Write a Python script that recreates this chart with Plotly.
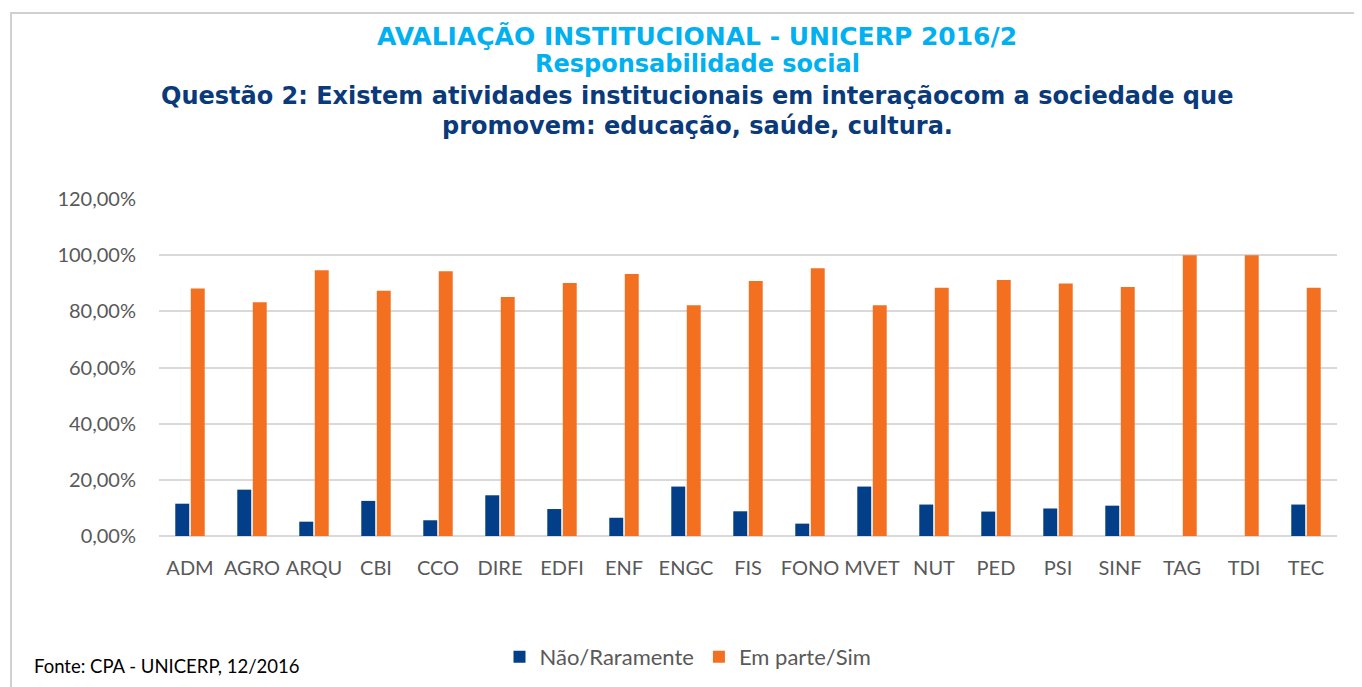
import plotly.graph_objects as go

categories = ["ADM", "AGRO", "ARQU", "CBI", "CCO", "DIRE", "EDFI", "ENF", "ENGC", "FIS",
              "FONO", "MVET", "NUT", "PED", "PSI", "SINF", "TAG", "TDI", "TEC"]
nao_raramente = [0.115, 0.165, 0.051, 0.125, 0.056, 0.145, 0.096, 0.065, 0.176, 0.088,
                 0.044, 0.176, 0.112, 0.087, 0.098, 0.108, 0.0, 0.0, 0.112]
em_parte_sim = [0.881, 0.832, 0.946, 0.873, 0.943, 0.851, 0.901, 0.933, 0.822, 0.908,
                0.953, 0.822, 0.884, 0.912, 0.899, 0.887, 1.0, 1.0, 0.884]
y_ticks = [0, 0.2, 0.4, 0.6, 0.8, 1.0, 1.2]
y_tick_labels = ["0,00%", "20,00%", "40,00%", "60,00%", "80,00%", "100,00%", "120,00%"]

BLUE = "#023f88"
ORANGE = "#f37021"
FONT = "Lato"
OFF = 8  # page body margin

fig = go.Figure()
fig.add_trace(go.Bar(x=categories, y=nao_raramente, name="Não/Raramente",
                     marker=dict(color=BLUE, line=dict(width=0))))
fig.add_trace(go.Bar(x=categories, y=em_parte_sim, name="Em parte/Sim",
                     marker=dict(color=ORANGE, line=dict(width=0))))

W, H = 1362, 687
# target page coordinates of plot area
PL, PR, PT, PB = 159, 1337, 199, 536
L = PL - OFF
T = PT - OFF
R = W - (PR - OFF)
B = H - (PB - OFF)
pw, ph = PR - PL, PB - PT

def px(x):
    return (x - PL) / pw

def py(y):
    return (PB - y) / ph

fig.update_layout(
    width=W, height=H,
    margin=dict(l=L, r=R, t=T, b=B, autoexpand=False),
    paper_bgcolor="white", plot_bgcolor="white",
    barmode="group", bargap=0.5, bargroupgap=0.1,
    font=dict(family=FONT, size=20, color="#595959"),
    showlegend=True,
    legend=dict(orientation="h", x=px(688), xanchor="center", y=py(657), yanchor="middle",
                font=dict(family=FONT, size=22, color="#595959"),
                itemwidth=30, tracegroupgap=0),
    xaxis=dict(showgrid=False, showline=False, zeroline=False, ticks="",
               tickfont=dict(family=FONT, size=20, color="#595959"),
               ticklabelstandoff=18),
    yaxis=dict(range=[0, 1.2], tickvals=y_ticks, ticktext=y_tick_labels,
               showgrid=True, gridcolor="#d9d9d9", gridwidth=1.5,
               zeroline=True, zerolinecolor="#d9d9d9", zerolinewidth=1.5,
               showline=False, ticks="",
               tickfont=dict(family=FONT, size=20, color="#595959"),
               ticklabelstandoff=22),
)

# chart frame border
fig.add_shape(type="rect", xref="paper", yref="paper",
              x0=px(11), x1=px(1375), y0=py(700), y1=py(13),
              line=dict(color="#d0d0d0", width=2), layer="below")

title_font = "DejaVu Sans"
fig.add_annotation(text="<b>AVALIAÇÃO INSTITUCIONAL - UNICERP 2016/2</b>",
                   xref="paper", yref="paper", x=px(697), y=py(36),
                   xanchor="center", yanchor="middle", showarrow=False,
                   font=dict(family=title_font, size=25, color="#00b0f0"))
fig.add_annotation(text="<b>Responsabilidade social</b>",
                   xref="paper", yref="paper", x=px(697), y=py(64),
                   xanchor="center", yanchor="middle", showarrow=False,
                   font=dict(family=title_font, size=24, color="#00b0f0"))
fig.add_annotation(text="<b>Questão 2: Existem atividades institucionais em interaçãocom a sociedade que</b>",
                   xref="paper", yref="paper", x=px(697), y=py(96),
                   xanchor="center", yanchor="middle", showarrow=False,
                   font=dict(family=title_font, size=24, color="#0a3a7a"))
fig.add_annotation(text="<b>promovem: educação, saúde, cultura.</b>",
                   xref="paper", yref="paper", x=px(697), y=py(126),
                   xanchor="center", yanchor="middle", showarrow=False,
                   font=dict(family=title_font, size=24, color="#0a3a7a"))
fig.add_annotation(text="Fonte: CPA - UNICERP, 12/2016",
                   xref="paper", yref="paper", x=px(32), y=py(666),
                   xanchor="left", yanchor="middle", showarrow=False,
                   font=dict(family="Lato", size=18.5, color="#000000"))

fig.write_html("out.html")
